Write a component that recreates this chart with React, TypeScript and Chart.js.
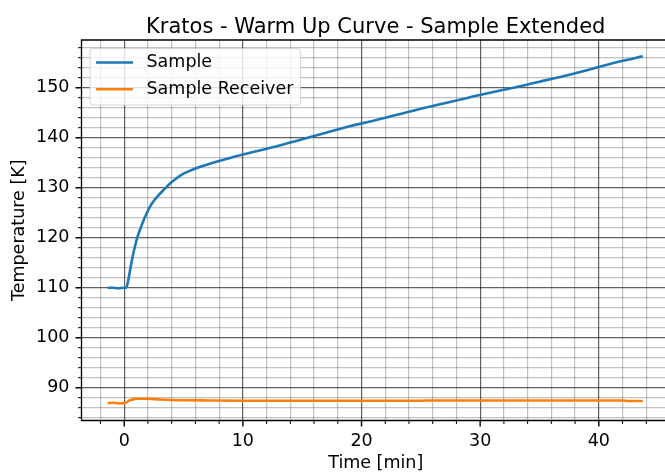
import React, { useEffect, useRef } from 'react';
import { Chart, registerables } from 'chart.js';

Chart.register(...registerables);

const TITLE = 'Kratos - Warm Up Curve - Sample Extended';
const X_LABEL = 'Time [min]';
const Y_LABEL = 'Temperature [K]';
const SERIES_NAMES = ['Sample', 'Sample Receiver'];
const SERIES_COLORS = ['#1f77b4', '#ff7f0e'];

const SAMPLE_TIME = [-1.4, -1.0, -0.5, 0.0, 0.15, 0.3, 0.5, 0.7, 0.9, 1.1, 1.3, 1.6, 1.9, 2.2, 2.5, 2.9, 3.3, 3.8, 4.3, 5.0, 5.7, 6.4, 7.2, 8.0, 9.0, 10.0, 11.5, 13, 15, 17, 19, 21, 23, 25, 27, 29, 31, 33, 35, 37, 39, 41, 43, 43.7];
const SAMPLE_TEMP = [110.0, 110.0, 109.9, 110.0, 110.0, 111.0, 113.6, 116.1, 118.2, 120.0, 121.4, 123.3, 124.9, 126.3, 127.4, 128.5, 129.5, 130.7, 131.7, 132.8, 133.55, 134.2, 134.8, 135.35, 136.0, 136.65, 137.5, 138.4, 139.7, 141.0, 142.3, 143.4, 144.6, 145.8, 146.9, 148.0, 149.1, 150.1, 151.2, 152.3, 153.5, 154.8, 155.9, 156.3];

const RECEIVER_TIME = [-1.4, -1.0, -0.5, 0.0, 0.2, 0.4, 0.6, 0.8, 1.0, 1.5, 2.0, 3.0, 4.0, 5.0, 7, 10, 14, 18, 22, 25, 26, 30, 35, 40, 42, 42.5, 43.7];
const RECEIVER_TEMP = [86.9, 87.0, 86.9, 86.9, 87.1, 87.4, 87.6, 87.7, 87.8, 87.8, 87.8, 87.65, 87.55, 87.5, 87.45, 87.4, 87.4, 87.4, 87.4, 87.4, 87.45, 87.45, 87.45, 87.45, 87.45, 87.35, 87.35];

const X_MAJOR_TICKS = [0, 10, 20, 30, 40];
const X_MINOR_TICKS = [-2, 2, 4, 6, 8, 12, 14, 16, 18, 22, 24, 26, 28, 32, 34, 36, 38, 42, 44];
const Y_MAJOR_TICKS = [90, 100, 110, 120, 130, 140, 150];
const Y_MINOR_TICKS = [84, 86, 88, 92, 94, 96, 98, 102, 104, 106, 108, 112, 114, 116, 118, 122, 124, 126, 128, 132, 134, 136, 138, 142, 144, 146, 148, 152, 154, 156, 158];

const X_MIN = -3.6;
const X_MAX = 46;
const Y_MIN = 83.44;
const Y_MAX = 159.54;

const FONT = 'DejaVu Sans';
const FS = 17.5;

const decorPlugin = {
  id: 'decor',
  afterDraw(chart: any) {
    const { ctx, chartArea } = chart;
    const { left, right, top, bottom } = chartArea;
    const xs = chart.scales.x;
    const ys = chart.scales.y;
    ctx.save();
    ctx.strokeStyle = '#000';
    ctx.lineWidth = 1.3;
    ctx.beginPath();
    ctx.moveTo(left, top);
    ctx.lineTo(right, top);
    ctx.lineTo(right, bottom);
    ctx.lineTo(left, bottom);
    ctx.closePath();
    ctx.stroke();
    const drawX = (vals: number[], len: number, w: number) => {
      ctx.lineWidth = w;
      ctx.beginPath();
      for (const v of vals) {
        const px = xs.getPixelForValue(v);
        ctx.moveTo(px, bottom);
        ctx.lineTo(px, bottom + len);
      }
      ctx.stroke();
    };
    const drawY = (vals: number[], len: number, w: number) => {
      ctx.lineWidth = w;
      ctx.beginPath();
      for (const v of vals) {
        const py = ys.getPixelForValue(v);
        ctx.moveTo(left, py);
        ctx.lineTo(left - len, py);
      }
      ctx.stroke();
    };
    drawX(X_MAJOR_TICKS, 6, 1.4);
    drawX(X_MINOR_TICKS, 3.5, 1);
    drawY(Y_MAJOR_TICKS, 6, 1.4);
    drawY(Y_MINOR_TICKS, 3.5, 1);

    // legend
    const lx = left + 8.5;
    const ly = top + 8.5;
    const lw = 210.5;
    const lh = 56.5;
    const r = 3;
    ctx.beginPath();
    ctx.moveTo(lx + r, ly);
    ctx.lineTo(lx + lw - r, ly);
    ctx.arcTo(lx + lw, ly, lx + lw, ly + r, r);
    ctx.lineTo(lx + lw, ly + lh - r);
    ctx.arcTo(lx + lw, ly + lh, lx + lw - r, ly + lh, r);
    ctx.lineTo(lx + r, ly + lh);
    ctx.arcTo(lx, ly + lh, lx, ly + lh - r, r);
    ctx.lineTo(lx, ly + r);
    ctx.arcTo(lx, ly, lx + r, ly, r);
    ctx.closePath();
    ctx.fillStyle = 'rgba(255,255,255,0.8)';
    ctx.fill();
    ctx.strokeStyle = 'rgba(204,204,204,0.8)';
    ctx.lineWidth = 1;
    ctx.stroke();
    ctx.font = `${FS}px "${FONT}"`;
    ctx.textBaseline = 'middle';
    ctx.textAlign = 'left';
    chart.data.datasets.forEach((ds: any, i: number) => {
      const yy = ly + 14 + i * 26.7;
      ctx.strokeStyle = ds.borderColor;
      ctx.lineWidth = 2.6;
      ctx.beginPath();
      ctx.moveTo(lx + 6, yy);
      ctx.lineTo(lx + 43, yy);
      ctx.stroke();
      ctx.fillStyle = '#000';
      ctx.fillText(ds.label, lx + 56.5, yy);
    });
    ctx.restore();
  },
};

const gridColor = (majors: number[]) => (c: any) =>
  c.tick && majors.includes(c.tick.value) ? 'rgba(0,0,0,0.62)' : 'rgba(0,0,0,0.24)';

export default function App() {
  const ref = useRef<HTMLCanvasElement>(null);
  useEffect(() => {
    if (!ref.current) return;
    const chart = new Chart(ref.current, {
      type: 'line',
      data: {
        datasets: [
          {
            label: SERIES_NAMES[0],
            data: SAMPLE_TIME.map((t, i) => ({ x: t, y: SAMPLE_TEMP[i] })),
            borderColor: SERIES_COLORS[0],
            backgroundColor: SERIES_COLORS[0],
            borderWidth: 2.6,
            pointRadius: 0,
            cubicInterpolationMode: 'monotone',
            fill: false,
          },
          {
            label: SERIES_NAMES[1],
            data: RECEIVER_TIME.map((t, i) => ({ x: t, y: RECEIVER_TEMP[i] })),
            borderColor: SERIES_COLORS[1],
            backgroundColor: SERIES_COLORS[1],
            borderWidth: 2.6,
            pointRadius: 0,
            cubicInterpolationMode: 'monotone',
            fill: false,
          },
        ],
      },
      options: {
        animation: false,
        responsive: false,
        devicePixelRatio: 1,
        layout: { padding: 0 },
        plugins: {
          legend: { display: false },
          tooltip: { enabled: false },
          title: {
            display: true,
            fullSize: false,
            text: TITLE,
            color: '#000',
            font: { family: FONT, size: 21, weight: 'normal', lineHeight: 1 },
            padding: { top: 17.5, bottom: 1.5 },
          },
        },
        scales: {
          x: {
            type: 'linear',
            min: X_MIN,
            max: X_MAX,
            afterBuildTicks: (s: any) => {
              s.ticks = [...X_MAJOR_TICKS, ...X_MINOR_TICKS].sort((a, b) => a - b).map((v) => ({ value: v }));
            },
            afterFit: (s: any) => {
              s.height = 54.5;
            },
            ticks: {
              autoSkip: false,
              maxRotation: 0,
              padding: 10,
              color: '#000',
              font: { family: FONT, size: FS },
              callback: (v: any) => (X_MAJOR_TICKS.includes(Number(v)) ? String(v) : ''),
            },
            grid: { color: gridColor(X_MAJOR_TICKS), lineWidth: 1.2, drawTicks: false },
            border: { display: false },
            title: {
              display: true,
              text: X_LABEL,
              color: '#000',
              font: { family: FONT, size: FS },
              padding: { top: 0, bottom: 1 },
            },
          },
          y: {
            type: 'linear',
            min: Y_MIN,
            max: Y_MAX,
            afterBuildTicks: (s: any) => {
              s.ticks = [...Y_MAJOR_TICKS, ...Y_MINOR_TICKS].sort((a, b) => a - b).map((v) => ({ value: v }));
            },
            afterFit: (s: any) => {
              s.width = 81.5;
            },
            ticks: {
              autoSkip: false,
              padding: 12,
              color: '#000',
              font: { family: FONT, size: FS },
              callback: (v: any) => (Y_MAJOR_TICKS.includes(Number(v)) ? String(v) : ''),
            },
            grid: { color: gridColor(Y_MAJOR_TICKS), lineWidth: 1.2, drawTicks: false },
            border: { display: false },
            title: {
              display: true,
              text: Y_LABEL,
              color: '#000',
              font: { family: FONT, size: FS },
              padding: { top: 9, bottom: 0 },
            },
          },
        },
      },
      plugins: [decorPlugin],
    });
    return () => chart.destroy();
  }, []);
  return (
    <div style={{ position: 'fixed', left: 0, top: 0, width: 665, height: 475, overflow: 'hidden', background: '#fff' }}>
      <canvas ref={ref} width={670} height={475} style={{ width: 670, height: 475, display: 'block' }} />
    </div>
  );
}
